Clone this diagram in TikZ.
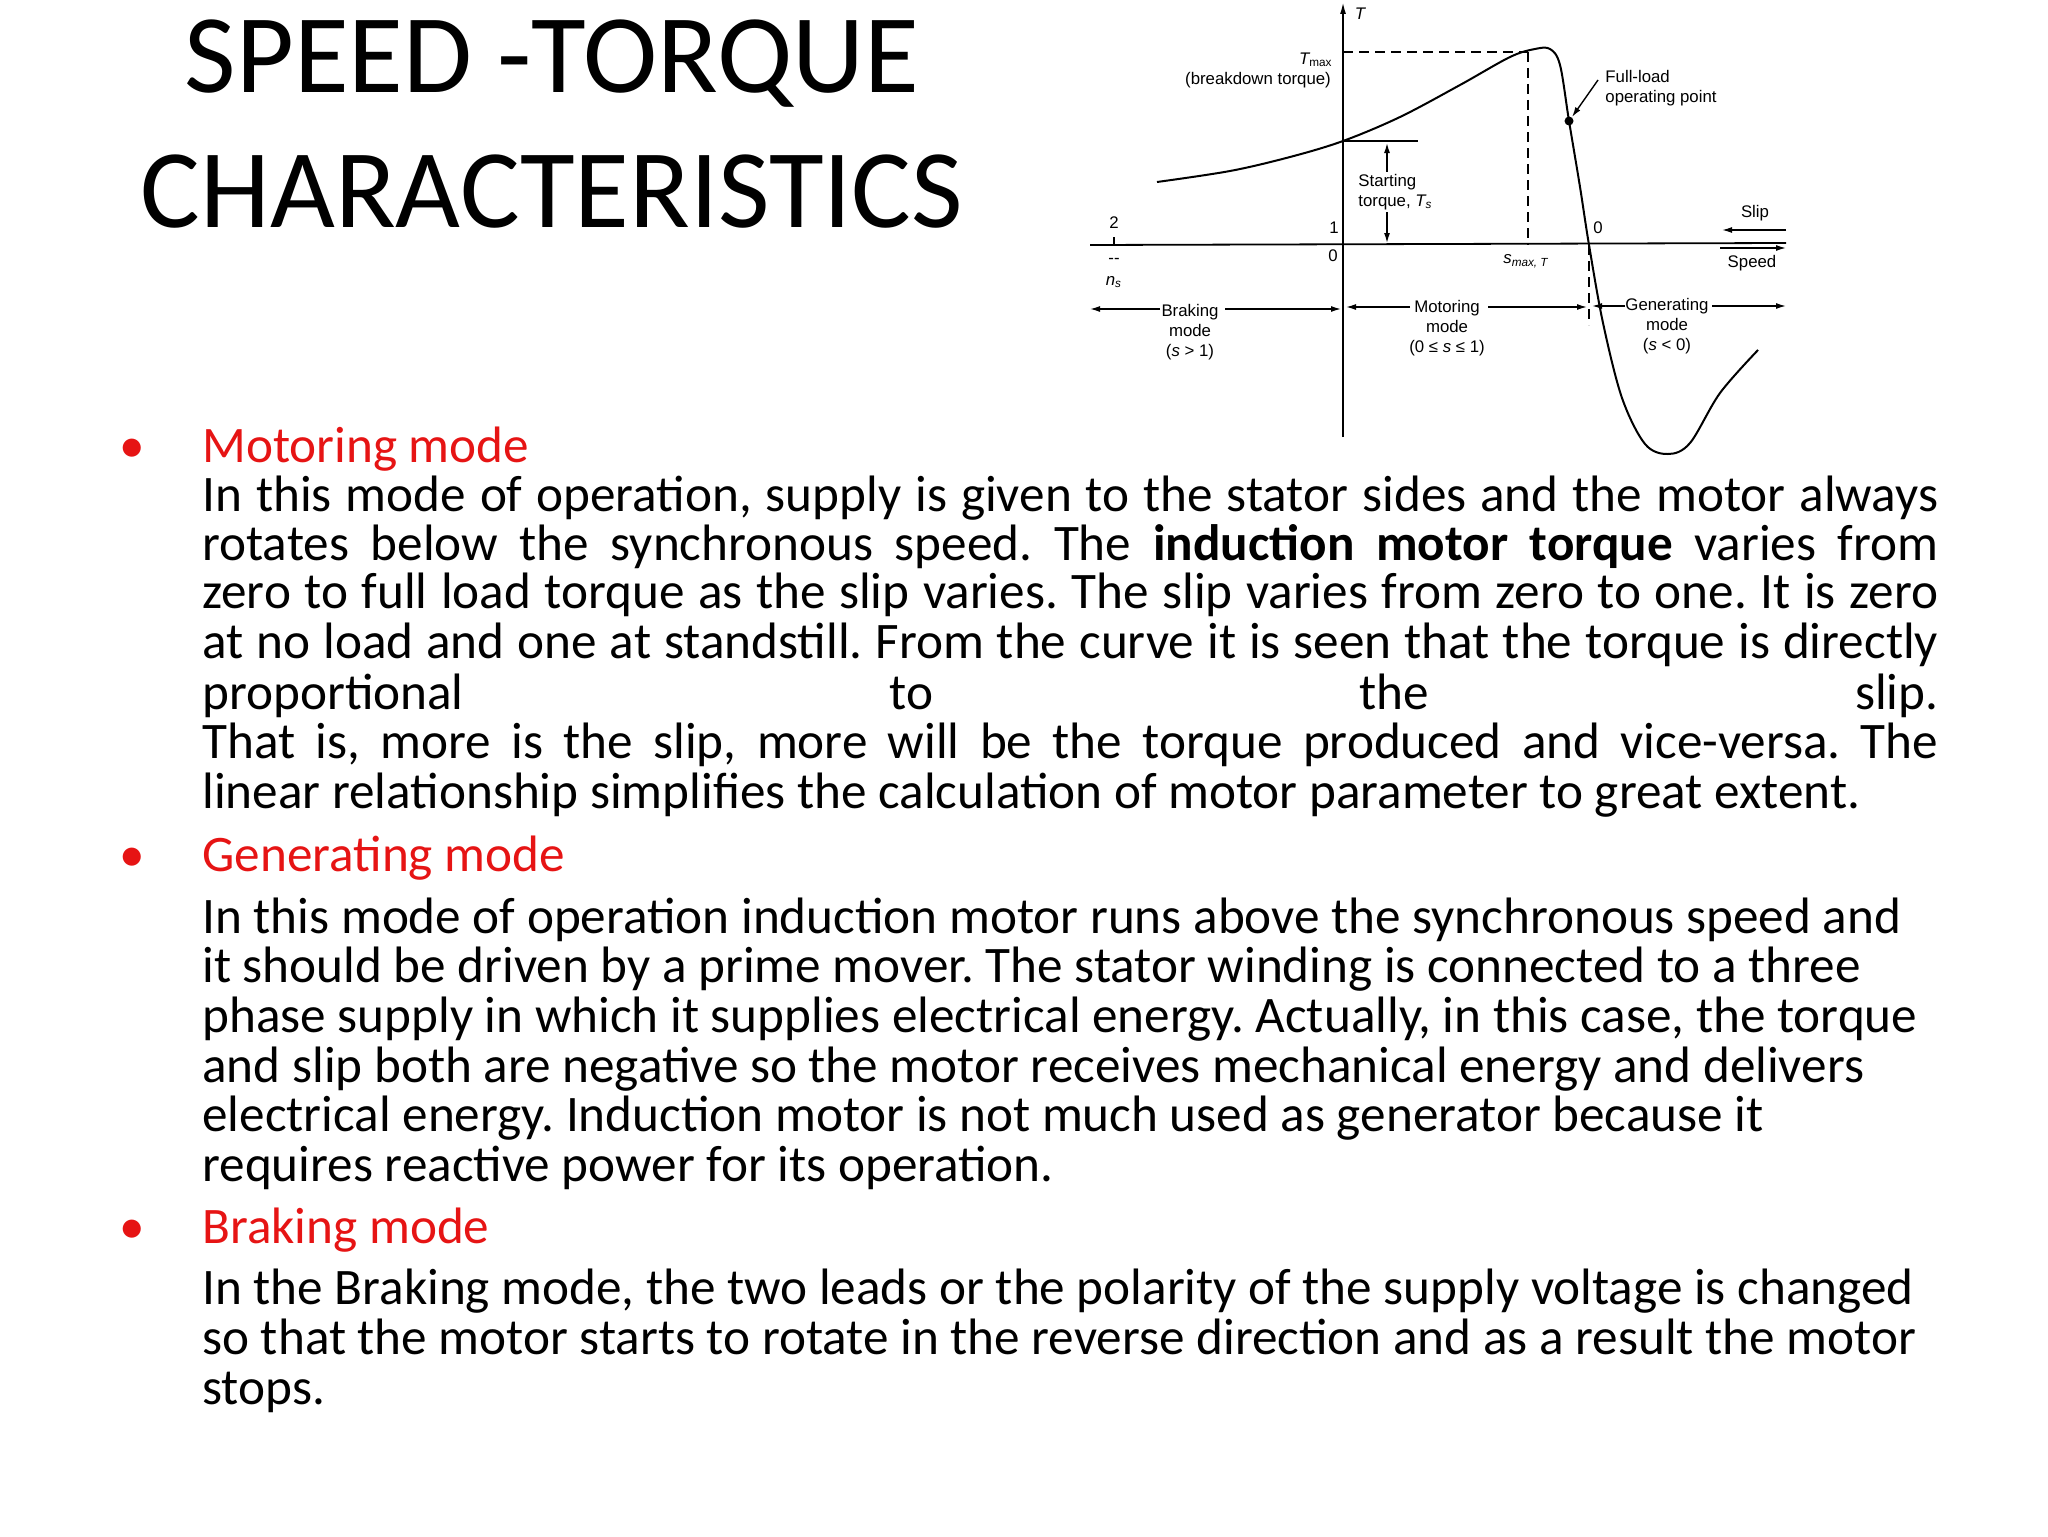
\documentclass[tikz,border=0pt]{standalone}
\usepackage{fontspec}
\setmainfont{Carlito}
\newfontfamily\chartfont{Liberation Sans}
\usetikzlibrary{arrows.meta}
\frenchspacing
\newcommand{\jl}[1]{\makebox[868pt][s]{#1}}
\begin{document}
\begin{tikzpicture}[x=0.5pt,y=-0.5pt,
  tl/.style={anchor=base west,inner sep=0pt,font=\fontsize{25.6}{30}\selectfont},
  hd/.style={tl,text={rgb,255:red,230;green,20;blue,20}},
  bul/.style={anchor=base,inner sep=0pt,font=\fontsize{25.6}{30}\selectfont,text={rgb,255:red,230;green,20;blue,20}},
  cl/.style={inner sep=0pt,font=\chartfont\fontsize{8.4}{10}\selectfont,align=center},
  ax/.style={line width=0.9pt},
  dsh/.style={line width=0.9pt,dash pattern=on 5pt off 3pt},
  arr/.style={line width=0.7pt,-{Latex[length=5pt,width=3pt]}}]
\useasboundingbox (0,0) rectangle (2048,1536);
% title
\node[anchor=base,inner sep=0pt,font=\fontsize{56}{66}\selectfont] (t1) at (552,92) {SPEED -TORQUE};
\node[anchor=base,inner sep=0pt,font=\fontsize{56}{66}\selectfont] (t2) at (552,227) {CHARACTERISTICS};
% chart
\draw[ax,-{Latex[length=6pt,width=3pt]}] (1343,437) -- (1343,2) coordinate (ttop);
\draw[ax] (1090,245) -- (1786,243);
\draw[ax] (1114,237) -- (1114,245);
\draw[dsh] (1343,52) -- (1528,52);
\draw[dsh] (1528,52) -- (1528,245);
\draw[dsh] (1589,245) -- (1589,325);
\draw[ax] (1343,141) -- (1418,141);
\draw[arr,{Latex[length=5pt,width=3pt]}-{Latex[length=5pt,width=3pt]}] (1387,143) -- (1387,243);
\draw[line width=1pt] plot[smooth,tension=0.55] coordinates {(1157,182) (1230,171) (1290,157) (1343,141) (1400,117) (1460,85) (1510,57) (1535,49) (1550,49) (1560,65) (1569,121) (1580,187) (1589,245) (1603,323) (1622,398) (1645,444) (1668,454) (1690,443) (1720,393) (1758,350)};
\fill (1569,121) circle (4.5);
\draw[arr] (1598,80) -- (1572,117);
\node[cl] (lT) at (1360,14) {\itshape T};
\node[cl,anchor=east] (lTm) at (1333,60) {\itshape T\textsubscript{\upshape max}};
\node[cl] (lbd) at (1258,80) {(breakdown torque)};
\node[cl,align=left,anchor=west] (lfl) at (1605,88) {Full-load\\operating point};
\node[cl,align=left,anchor=west,fill=white,inner sep=1pt] (lst) at (1356,192) {Starting\\torque, \itshape T\textsubscript{s}};
\node[cl] (l2) at (1114,223) {2};
\node[cl] (ldash) at (1114,261) {--};
\node[cl] (lns) at (1114,282) {\itshape n\textsubscript{s}};
\node[cl] (l1) at (1334,228) {1};
\node[cl] (l0a) at (1333,256) {0};
\node[cl] (l0b) at (1598,228) {0};
\node[cl] (lsm) at (1526,261) {\itshape s\textsubscript{max, T}};
\node[cl] (lslip) at (1755,213) {Slip};
\node[cl] (lspeed) at (1752,263) {Speed};
\draw[arr] (1786,230) -- (1722,230);
\draw[arr] (1720,248) -- (1786,248);
\node[cl] (bm) at (1190,332) {Braking\\mode\\(\itshape s\upshape\ > 1)};
\node[cl] (mm) at (1447,328) {Motoring\\mode\\(0 ≤ \itshape s\upshape\ ≤ 1)};
\node[cl] (gm) at (1667,326) {Generating\\mode\\(\itshape s\upshape\ < 0)};
\draw[arr] (1160,309) -- (1090,309);
\draw[arr] (1225,309) -- (1341,309);
\draw[arr] (1410,307) -- (1346,307);
\draw[arr] (1488,307) -- (1587,307);
\draw[arr] (1625,306) -- (1592,306);
\draw[arr] (1712,306) -- (1786,306);
% text
\node[bul] (b1) at (132,462) {•};
\node[hd] (h1) at (202,462) {Motoring mode};
\node[tl] (m1) at (202,511) {\jl{In this mode of operation, supply is given to the stator sides and the motor always}};
\node[tl] (m2) at (202,560) {\jl{rotates below the synchronous speed. The \textbf{induction motor torque} varies from}};
\node[tl] (m3) at (202,608) {\jl{zero to full load torque as the slip varies. The slip varies from zero to one. It is zero}};
\node[tl] (m4) at (202,658) {\jl{at no load and one at standstill. From the curve it is seen that the torque is directly}};
\node[tl] (m5) at (202,709) {\jl{proportional to the slip.}};
\node[tl] (m6) at (202,758) {\jl{That is, more is the slip, more will be the torque produced and vice-versa. The}};
\node[tl] (m7) at (202,808) {linear relationship simplifies the calculation of motor parameter to great extent.};
\node[bul] (b2) at (132,871) {•};
\node[hd] (h2) at (202,871) {Generating mode};
\node[tl] (g1) at (202,933) {In this mode of operation induction motor runs above the synchronous speed and};
\node[tl] (g2) at (202,982) {it should be driven by a prime mover. The stator winding is connected to a three};
\node[tl] (g3) at (202,1032) {phase supply in which it supplies electrical energy. Actually, in this case, the torque};
\node[tl] (g4) at (202,1082) {and slip both are negative so the motor receives mechanical energy and delivers};
\node[tl] (g5) at (202,1131) {electrical energy. Induction motor is not much used as generator because it};
\node[tl] (g6) at (202,1181) {requires reactive power for its operation.};
\node[bul] (b3) at (132,1243) {•};
\node[hd] (h3) at (202,1243) {Braking mode};
\node[tl] (r1) at (202,1304) {In the Braking mode, the two leads or the polarity of the supply voltage is changed};
\node[tl] (r2) at (202,1354) {so that the motor starts to rotate in the reverse direction and as a result the motor};
\node[tl] (r3) at (202,1404) {stops.};
\end{tikzpicture}
\end{document}
